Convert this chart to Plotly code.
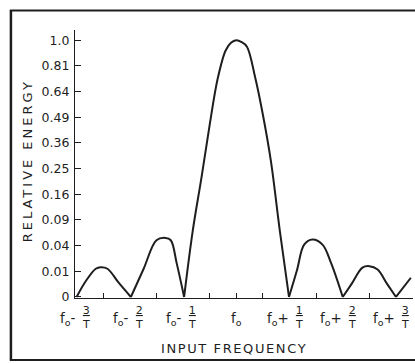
import numpy as np
import plotly.graph_objects as go

# ---- data ----
# frequency offset from f0 in units of 1/T, and relative energy
offset = [-3.00, -2.82, -2.64, -2.55, -2.42, -2.21, -1.98,
          -1.74, -1.50, -1.33, -1.23, -1.12, -0.98,
          -0.82, -0.65, -0.50, -0.35, -0.20, -0.10, 0.00, 0.10, 0.20, 0.35, 0.50, 0.65, 0.82, 0.99,
          1.14, 1.275, 1.43, 1.62, 1.78, 2.00,
          2.17, 2.37, 2.50, 2.655, 2.83, 3.00, 3.28]
energy = [0, 0.0041, 0.0121, 0.0135, 0.0121, 0.0031, 0,
          0.0121, 0.0488, 0.0529, 0.0488, 0.0174, 0,
          0.065, 0.221, 0.449, 0.7225, 0.9216, 0.980, 1.0, 0.986, 0.9506, 0.7396, 0.5041, 0.2809, 0.065, 0,
          0.0108, 0.0416, 0.0502, 0.0416, 0.0177, 0,
          0.0027, 0.0130, 0.0144, 0.0114, 0.0027, 0, 0.0056]

y_tick_values = [0, 0.01, 0.04, 0.09, 0.16, 0.25, 0.36, 0.49, 0.64, 0.81, 1.0]
y_tick_labels = ["0", "0.01", "0.04", "0.09", "0.16", "0.25", "0.36",
                 "0.49", "0.64", "0.81", "1.0"]

x_tick_offsets = [-3, -2, -1, 0, 1, 2, 3]
x_tick_signs = ["-", "-", "-", "", "+", "+", "+"]
x_tick_numerators = ["3", "2", "1", "", "1", "2", "3"]
x_minor_ticks = [-2.5, -1.5, -0.5, 0, 0.5, 1.5, 2.5]

x_title = "INPUT FREQUENCY"
y_title = "RELATIVE ENERGY"

INK = "#1e1e1e"
FONT = "DejaVu Sans"

W, H = 415, 363
ML, MR, MT, MB = 75, 2.4, 30, 64.5
XR = [-3.03, 3.32]
YR = [-0.004, 1.04]

fig = go.Figure()

# split the curve into lobes at its zeros (the energy axis is a square-root scale)
segments = []
cur = []
for u, e in zip(offset, energy):
    cur.append((u, e))
    if e == 0 and len(cur) > 1:
        segments.append(cur)
        cur = [(u, e)]
if len(cur) > 1:
    segments.append(cur)

for seg in segments:
    xs = [p[0] for p in seg]
    ys = [float(np.sqrt(p[1])) for p in seg]
    fig.add_trace(go.Scatter(x=xs, y=ys, mode="lines",
                             line=dict(color=INK, width=2, shape="spline", smoothing=1.0),
                             hoverinfo="skip", showlegend=False, cliponaxis=True))

fig.update_xaxes(range=XR, showgrid=False, zeroline=False, showline=True,
                 linecolor=INK, linewidth=1.2, ticks="inside", ticklen=5,
                 tickcolor=INK, tickwidth=1, tickvals=x_minor_ticks,
                 showticklabels=False, fixedrange=True)
fig.update_yaxes(range=YR, showgrid=False, zeroline=False, showline=True,
                 linecolor=INK, linewidth=1.2, ticks="inside", ticklen=6,
                 tickcolor=INK, tickwidth=1,
                 tickvals=[float(np.sqrt(v)) for v in y_tick_values],
                 ticktext=y_tick_labels, ticklabelstandoff=2,
                 tickfont=dict(family=FONT, size=12.5, color=INK), fixedrange=True)

ann = []
for k, s, n in zip(x_tick_offsets, x_tick_signs, x_tick_numerators):
    if n == "":
        ann.append(dict(x=k, y=0, xref="x", yref="y", text="f<sub>o</sub>",
                        showarrow=False, xanchor="center", yanchor="middle",
                        yshift=-22, font=dict(family=FONT, size=13.5, color=INK)))
    else:
        ann.append(dict(x=k, y=0, xref="x", yref="y", text="f<sub>o</sub>" + s,
                        showarrow=False, xanchor="right", yanchor="middle",
                        xshift=1, yshift=-22, font=dict(family=FONT, size=13.5, color=INK)))
        ann.append(dict(x=k, y=0, xref="x", yref="y", text="<u>" + n + "</u><br>T",
                        showarrow=False, xanchor="center", yanchor="middle",
                        xshift=9, yshift=-21, font=dict(family=FONT, size=11, color=INK)))

ann.append(dict(x=-0.05, y=0, xref="x", yref="y",
                text='<span style="letter-spacing:1.6px">' + x_title + "</span>",
                showarrow=False, xanchor="center", yanchor="middle", yshift=-52,
                font=dict(family=FONT, size=13, color=INK)))
ann.append(dict(x=0, y=0.51, xref="paper", yref="paper",
                text='<span style="letter-spacing:3px">' + y_title + "</span>",
                showarrow=False, textangle=-90, xanchor="center", yanchor="middle",
                xshift=-48, font=dict(family=FONT, size=13, color=INK)))

# decorative frame around the figure (paper coordinates from pixel positions)
pw = W - ML - MR
ph = H - MT - MB
def px_to_paper_x(px):
    return (px - ML) / pw
def px_to_paper_y(py):
    return (H - MB - py) / ph

frame = [
    dict(type="line", xref="paper", yref="paper",
         x0=px_to_paper_x(11), x1=px_to_paper_x(11),
         y0=px_to_paper_y(10), y1=px_to_paper_y(361),
         line=dict(color=INK, width=2.5)),
    dict(type="line", xref="paper", yref="paper",
         x0=px_to_paper_x(10), x1=px_to_paper_x(420),
         y0=px_to_paper_y(10.5), y1=px_to_paper_y(10.5),
         line=dict(color=INK, width=2)),
    dict(type="line", xref="paper", yref="paper",
         x0=px_to_paper_x(10), x1=px_to_paper_x(420),
         y0=px_to_paper_y(360.5), y1=px_to_paper_y(360.5),
         line=dict(color=INK, width=2)),
]

fig.update_layout(width=W, height=H,
                  margin=dict(l=ML, r=MR, t=MT, b=MB, pad=0),
                  paper_bgcolor="white", plot_bgcolor="white",
                  annotations=ann, shapes=frame, showlegend=False,
                  font=dict(family=FONT, color=INK))

fig.write_html("out.html", config={"displayModeBar": False},
               post_script="document.body.style.margin='0';document.body.style.overflow='hidden';")
